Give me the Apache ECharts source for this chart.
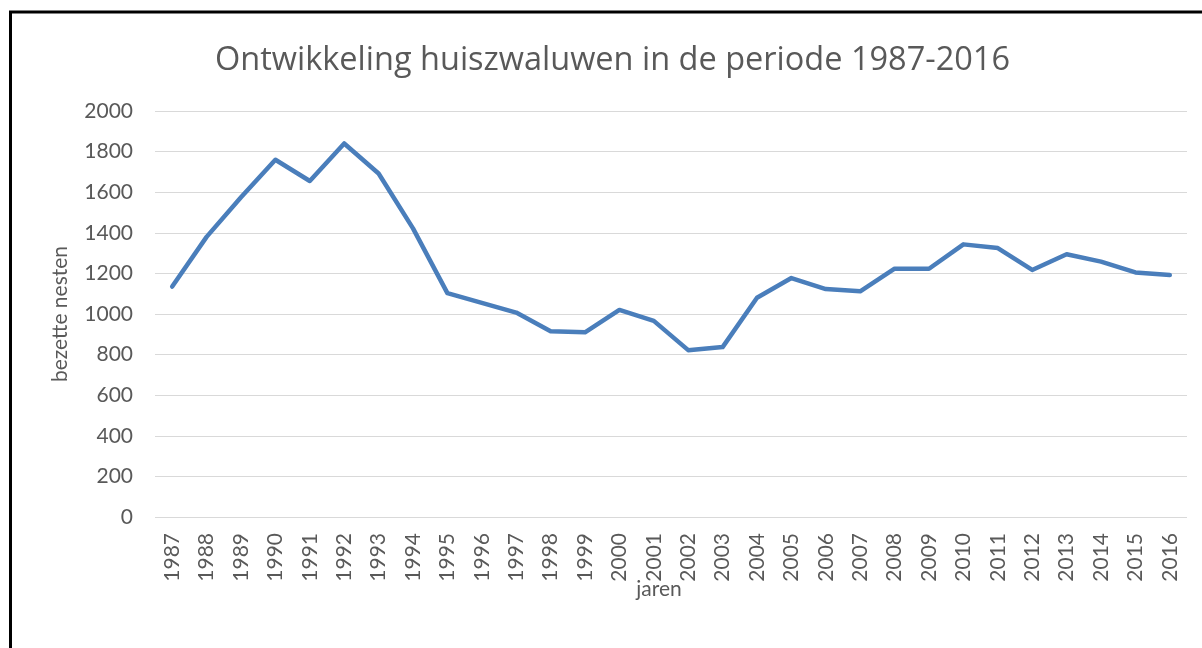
<!DOCTYPE html>
<html>
<head>
<meta charset="utf-8">
<script src="https://cdn.jsdelivr.net/npm/echarts@6/dist/echarts.min.js"></script>
<style>
html,body{margin:0;padding:0;background:#fff;}
#chart{width:1202px;height:648px;}
</style>
</head>
<body>
<div id="chart"></div>
<script>
var years = ['1987','1988','1989','1990','1991','1992','1993','1994','1995','1996','1997','1998','1999','2000','2001','2002','2003','2004','2005','2006','2007','2008','2009','2010','2011','2012','2013','2014','2015','2016'];
var nests = [1135,1380,1575,1760,1655,1840,1692,1422,1103,1055,1007,915,910,1020,966,822,837,1080,1177,1123,1112,1223,1223,1343,1325,1217,1294,1258,1205,1192];
var yTicks = [0,200,400,600,800,1000,1200,1400,1600,1800,2000];

var chart = echarts.init(document.getElementById('chart'), null, {renderer:'canvas'});
chart.setOption({
  backgroundColor:'#ffffff',
  animation:false,
  title:{
    text:'Ontwikkeling huiszwaluwen in de periode 1987-2016',
    left:210, top:39,
    textStyle:{fontFamily:'Open Sans', fontSize:32.5, fontWeight:'normal', color:'#595959'}
  },
  grid:{left:155, right:15, top:111, bottom:131, containLabel:false},
  xAxis:{
    type:'category',
    data:years,
    boundaryGap:true,
    name:'jaren',
    nameLocation:'middle',
    nameGap:62,
    nameMoveOverlap:false,
    nameTextStyle:{fontFamily:'Lato', fontSize:21, color:'#595959', padding:[0,24,0,0]},
    axisLine:{show:false},
    axisTick:{show:false},
    axisLabel:{rotate:90, margin:16, fontFamily:'Lato', fontSize:21, color:'#595959', interval:0}
  },
  yAxis:{
    type:'value',
    min:yTicks[0], max:yTicks[yTicks.length-1], interval:200,
    name:'bezette nesten',
    nameLocation:'middle',
    nameGap:84,
    nameMoveOverlap:false,
    nameTextStyle:{fontFamily:'Lato', fontSize:21, color:'#595959'},
    axisLine:{show:false},
    axisTick:{show:false},
    axisLabel:{margin:22, fontFamily:'Lato', fontSize:21, color:'#595959', formatter:function(v){return String(v);}},
    splitLine:{lineStyle:{color:'#d9d9d9', width:1}}
  },
  series:[{
    type:'line',
    data:nests,
    symbol:'none',
    lineStyle:{color:'#4a7ebb', width:4.5, join:'round', cap:'round'}
  }],
  graphic:[
    {type:'line', shape:{x1:10.5, y1:12, x2:10.5, y2:660}, style:{stroke:'#000', lineWidth:3}},
    {type:'line', shape:{x1:9, y1:12, x2:1210, y2:12}, style:{stroke:'#000', lineWidth:3}}
  ]
});
</script>
</body>
</html>
